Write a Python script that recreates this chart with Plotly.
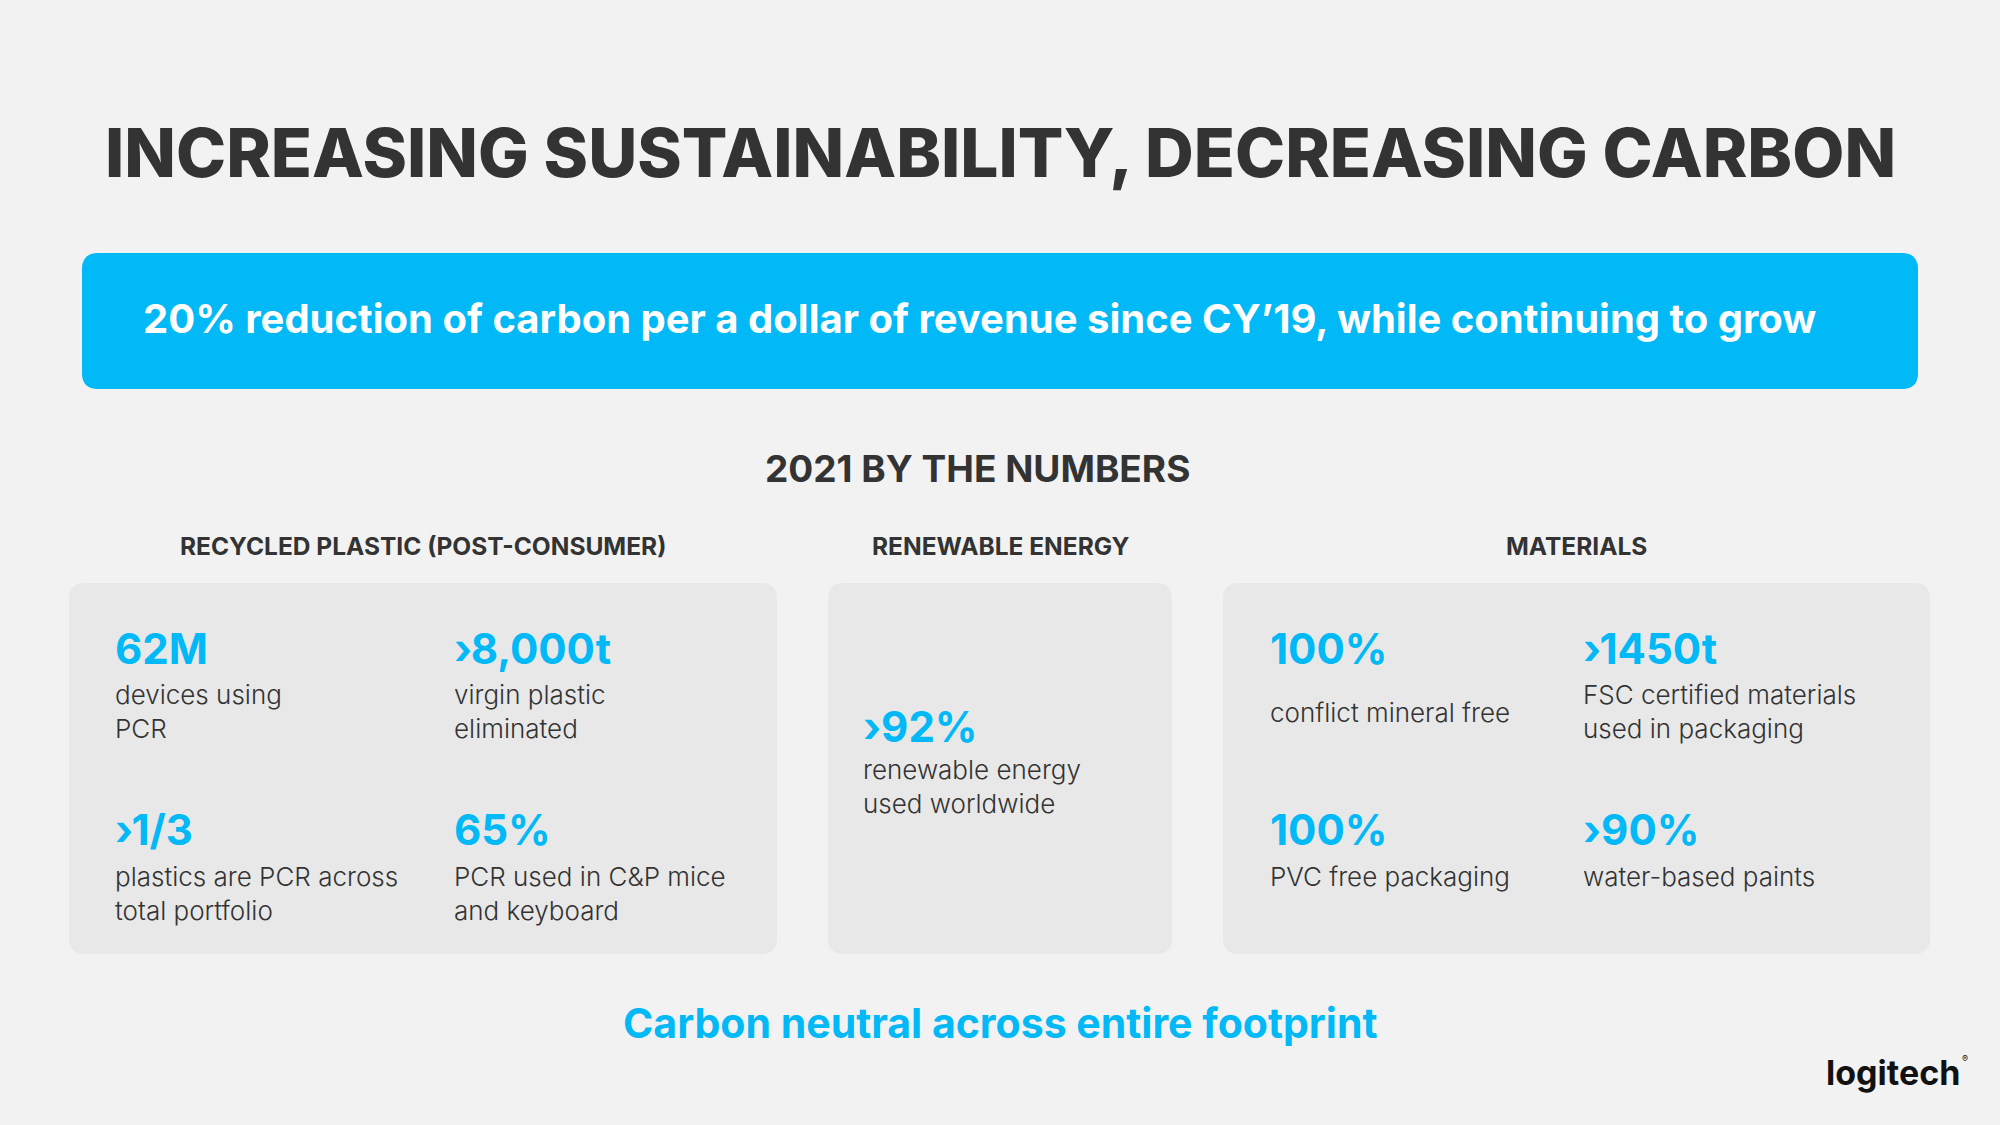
import plotly.graph_objects as go

# ---------------- data ----------------
title_text = "INCREASING SUSTAINABILITY, DECREASING CARBON"
banner_text = "20% reduction of carbon per a dollar of revenue since CY\u201919, while continuing to grow"
subtitle_text = "2021 BY THE NUMBERS"
footer_text = "Carbon neutral across entire footprint"
brand_text = "logitech"

section_titles = ["RECYCLED PLASTIC (POST-CONSUMER)", "RENEWABLE ENERGY", "MATERIALS"]

recycled_values = ["62M", "\u203a8,000t", "\u203a1/3", "65%"]
recycled_labels = [["devices using", "PCR"], ["virgin plastic", "eliminated"],
                   ["plastics are PCR across", "total portfolio"], ["PCR used in C&P mice", "and keyboard"]]

energy_values = ["\u203a92%"]
energy_labels = [["renewable energy", "used worldwide"]]

materials_values = ["100%", "\u203a1450t", "100%", "\u203a90%"]
materials_labels = [["conflict mineral free"], ["FSC certified materials", "used in packaging"],
                    ["PVC free packaging"], ["water-based paints"]]

# ---------------- style ----------------
W, H = 2000, 1125
BG = "#F2F2F2"
CARD = "#E8E8E8"
BLUE = "#00B9F6"
DARK = "#333333"
FONT = "Inter"

fig = go.Figure()
fig.update_layout(
    width=W, height=H, margin=dict(l=0, r=0, t=0, b=0),
    paper_bgcolor=BG, plot_bgcolor=BG, showlegend=False,
    xaxis=dict(range=[0, W], visible=False, fixedrange=True),
    yaxis=dict(range=[H, 0], visible=False, fixedrange=True),
)


def rrect(x0, y0, x1, y1, r, color):
    path = (f"M {x0+r},{y0} L {x1-r},{y0} Q {x1},{y0} {x1},{y0+r} "
            f"L {x1},{y1-r} Q {x1},{y1} {x1-r},{y1} L {x0+r},{y1} "
            f"Q {x0},{y1} {x0},{y1-r} L {x0},{y0+r} Q {x0},{y0} {x0+r},{y0} Z")
    fig.add_shape(type="path", path=path, xref="x", yref="y",
                  fillcolor=color, line=dict(width=0), layer="below")


def text(x, y, s, size, color, weight="normal", anchor="left"):
    fig.add_annotation(x=x, y=y, xref="x", yref="y", text=s, showarrow=False,
                       xanchor=anchor, yanchor="middle",
                       font=dict(family=FONT, size=size, color=color, weight=weight))


# title
text(1000, 152, title_text, 67.5, DARK, 800, "center")

# banner
rrect(82, 253, 1918, 389, 16, BLUE)
text(141, 318, banner_text, 40, "white", 700)

# subtitle
text(977, 468, subtitle_text, 37, DARK, 700, "center")

# cards
cards = [(69, 777), (828, 1172), (1223, 1930)]
for (x0, x1), st in zip(cards, section_titles):
    rrect(x0, 583, x1, 954, 16, CARD)
    text((x0 + x1) / 2, 546, st, 24.5, DARK, 700, "center")

LINE = 34.5


def stat(x, yv, value, yl, lines):
    text(x, yv, value, 42, BLUE, 700)
    for i, ln in enumerate(lines):
        text(x, yl + i * LINE, ln, 26, DARK, 300)


# recycled plastic
rec_pos = [(113, 648, 694), (452, 648, 694), (113, 829, 876), (452, 829, 876)]
for (x, yv, yl), v, lab in zip(rec_pos, recycled_values, recycled_labels):
    stat(x, yv, v, yl, lab)

# renewable energy
stat(861, 726, energy_values[0], 769, energy_labels[0])

# materials
mat_pos = [(1268, 648, 712), (1581, 648, 694), (1268, 829, 876), (1581, 829, 876)]
for (x, yv, yl), v, lab in zip(mat_pos, materials_values, materials_labels):
    stat(x, yv, v, yl, lab)

# footer
text(1000, 1023, footer_text, 41, BLUE, 700, "center")

# logo
text(1824, 1072, brand_text, 34, "#111111", 700)
text(1960, 1058, "\u00ae", 9, "#111111", 400)

fig.write_html("out.html", config={"displayModeBar": False},
               post_script="document.body.style.margin='0';document.body.style.padding='0';"
                           "document.body.style.overflow='hidden';")
